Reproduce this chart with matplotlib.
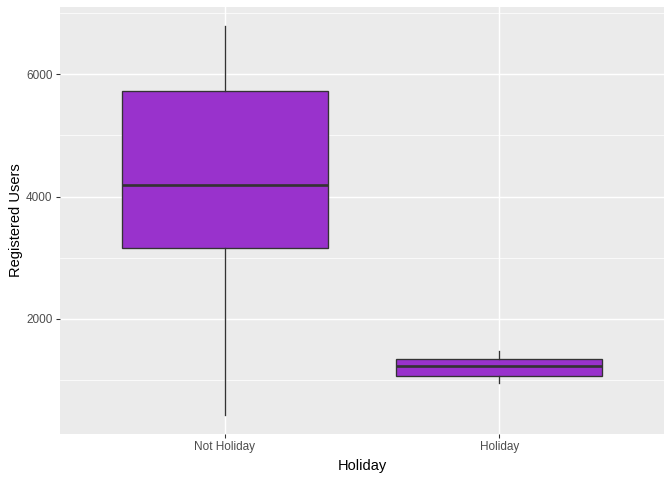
import matplotlib.pyplot as plt
from matplotlib.ticker import MultipleLocator

plt.rcParams['font.family'] = ['Liberation Sans', 'DejaVu Sans']

# box statistics
categories = ["Not Holiday", "Holiday"]
whislo = [433, 950]
q1 = [3159, 1064]
med = [4188, 1222]
q3 = [5722, 1342]
whishi = [6784, 1478]

stats = []
for i, name in enumerate(categories):
    stats.append({"label": name, "whislo": whislo[i], "q1": q1[i], "med": med[i],
                  "q3": q3[i], "whishi": whishi[i], "fliers": []})

fig = plt.figure(figsize=(7, 5), dpi=96)
ax = fig.add_axes([60 / 672, 1 - 434 / 480, 604 / 672, 427 / 480])
ax.set_facecolor("#EBEBEB")

edge = "#333333"
ax.bxp(stats, positions=[1, 2], widths=0.75, patch_artist=True, showcaps=False,
       boxprops=dict(facecolor="#9932CC", edgecolor=edge, linewidth=1.0),
       whiskerprops=dict(color=edge, linewidth=1.0),
       medianprops=dict(color=edge, linewidth=2.0),
       zorder=3)

ax.set_xlim(0.4, 2.6)
lo = min(whislo)
hi = max(whishi)
pad = (hi - lo) * 0.05
ax.set_ylim(lo - pad, hi + pad)

ax.set_xticks([1, 2])
ax.set_xticklabels(categories)
ax.yaxis.set_major_locator(MultipleLocator(2000))
ax.yaxis.set_minor_locator(MultipleLocator(1000))

ax.grid(which="major", color="white", linewidth=1.1, zorder=0)
ax.grid(which="minor", axis="y", color="white", linewidth=0.55, zorder=0)
ax.set_axisbelow(True)
for s in ax.spines.values():
    s.set_visible(False)

ax.tick_params(axis="both", which="major", length=3, width=0.8, color=edge,
               labelsize=8.8, labelcolor="#4D4D4D", pad=2.5)
ax.tick_params(axis="y", which="minor", length=0)

ax.set_xlabel("Holiday", fontsize=11, color="black", labelpad=4)
ax.set_ylabel("Registered Users", fontsize=11, color="black", labelpad=2)

fig.savefig("out.png", dpi=96)
